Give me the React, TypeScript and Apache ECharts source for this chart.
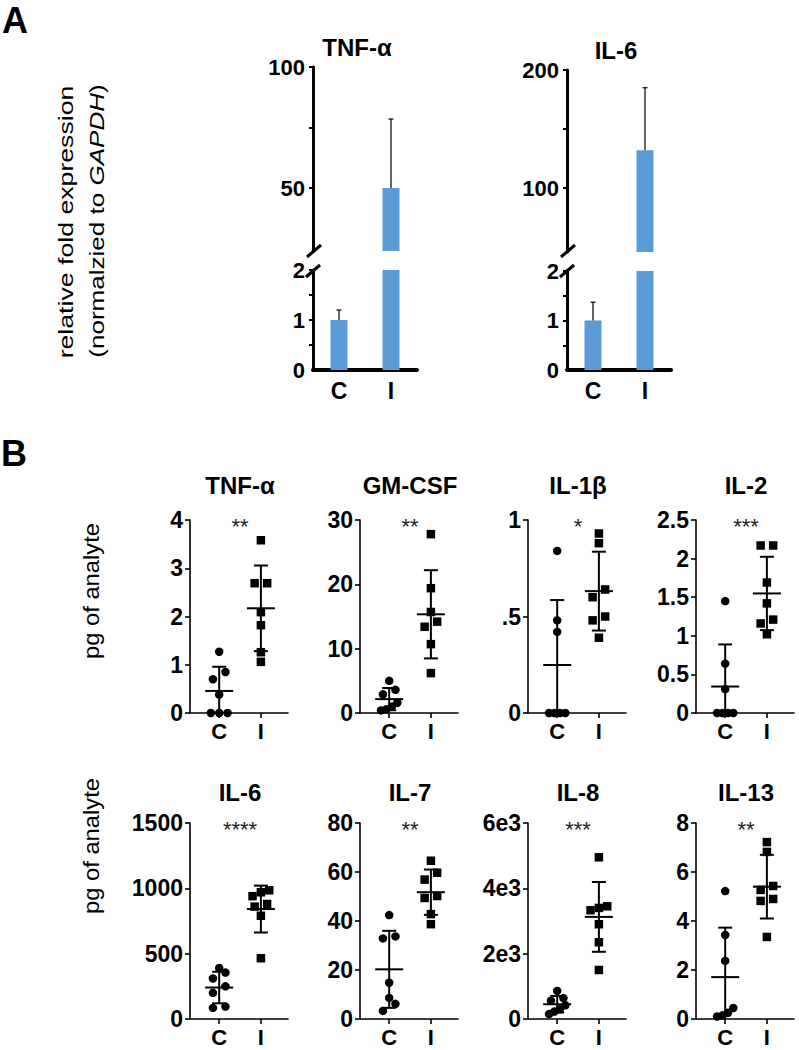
import React, { useEffect, useRef } from 'react';
import * as echarts from 'echarts';

const GROUPS = ['C', 'I'];

// Panel A: qPCR relative fold expression (mean and upward error)
const qpcrTnfMean = [1, 50];
const qpcrTnfErr = [0.2, 28.5];
const qpcrIl6Mean = [1, 132];
const qpcrIl6Err = [0.37, 53];

// Panel B: pg of analyte, control (C) and infected (I)
const tnfC = [1.27, 0.85, 0.7, 0.38, 0, 0, 0];
const tnfI = [3.58, 2.69, 2.69, 2.09, 1.82, 1.26, 1.06];
const gmcsfC = [5.0, 3.6, 2.9, 1.6, 1.0, 0.6, 0.4];
const gmcsfI = [27.8, 19.4, 15.7, 14.2, 13.4, 10.7, 6.2];
const il1bC = [0.84, 0.48, 0.42, 0, 0, 0, 0];
const il1bI = [0.93, 0.88, 0.64, 0.6, 0.5, 0.48, 0.39];
const il2C = [1.45, 0.64, 0.31, 0, 0, 0, 0];
const il2I = [2.17, 2.17, 1.69, 1.42, 1.21, 1.16, 1.02];
const il6C = [390, 355, 310, 250, 200, 95, 85];
const il6I = [985, 970, 940, 880, 860, 790, 465];
const il7C = [42.4, 33.7, 32.9, 14.8, 8.6, 6.2, 3.3];
const il7I = [64.6, 59.7, 56.9, 50.2, 49.4, 42.8, 38.7];
const il8C = [860, 640, 560, 420, 300, 230, 150];
const il8I = [4950, 3450, 3400, 3330, 2900, 2350, 1500];
const il13C = [5.22, 3.43, 2.37, 0.45, 0.25, 0.15, 0.1];
const il13I = [7.22, 6.82, 5.43, 5.27, 4.9, 4.82, 3.35];

const analytes = ['TNF-α', 'GM-CSF', 'IL-1β', 'IL-2', 'IL-6', 'IL-7', 'IL-8', 'IL-13'];
const significance = ['**', '**', '*', '***', '****', '**', '***', '**'];
const cSets = [tnfC, gmcsfC, il1bC, il2C, il6C, il7C, il8C, il13C];
const iSets = [tnfI, gmcsfI, il1bI, il2I, il6I, il7I, il8I, il13I];
const yMaxes = [4, 30, 1, 2.5, 1500, 80, 6000, 8];
const yIntervals = [1, 10, 0.5, 0.5, 500, 20, 2000, 2];

const FONT = "'Liberation Sans', Arial, Helvetica, sans-serif";

function meanSd(arr: number[]) {
  const m = arr.reduce((a, b) => a + b, 0) / arr.length;
  const sd = Math.sqrt(arr.reduce((a, b) => a + (b - m) * (b - m), 0) / (arr.length - 1));
  return [m, sd];
}

// Prism-like horizontal spreading of overlapping points
function jitter(values: number[], pxPerUnit: number) {
  const idx = values.map((_, i) => i).sort((a, b) => values[a] - values[b]);
  const off = new Array(values.length).fill(0);
  let cluster: number[] = [];
  const flush = () => {
    const n = cluster.length;
    const step = n === 2 ? 0.3 : n === 3 ? 0.2 : 0.13;
    cluster.forEach((k, j) => { off[k] = (j - (n - 1) / 2) * step; });
    cluster = [];
  };
  for (const k of idx) {
    if (cluster.length && (values[k] - values[cluster[0]]) * pxPerUnit > 9) flush();
    cluster.push(k);
  }
  flush();
  return off;
}

function fmtTick(k: number, v: number) {
  if (k === 2) return v === 0 ? '0' : String(v).replace(/^0\./, '.');
  if (k === 6) return v === 0 ? '0' : `${v / 1000}e3`;
  return String(v);
}

function buildOption() {
  const grid: any[] = [];
  const xAxis: any[] = [];
  const yAxis: any[] = [];
  const series: any[] = [];
  const graphic: any[] = [];

  const txt = (text: string, x: number, y: number, size: number, weight: string, extra: any = {}) => ({
    type: 'text', x, y, silent: true, ...extra,
    style: { text, fontSize: size, fontWeight: weight, fontFamily: FONT, fill: '#000', align: 'center', verticalAlign: 'middle', ...(extra.style || {}) },
  });

  graphic.push(txt('A', 2, 20, 36, 'bold', { style: { align: 'left' } }));
  graphic.push(txt('B', 1, 453, 36, 'bold', { style: { align: 'left' } }));

  // ---------- Panel A ----------
  graphic.push({
    type: 'text', x: 66, y: 222, rotation: Math.PI / 2, scaleX: 1.27, silent: true,
    style: { text: 'relative fold expression', fontSize: 21, fontFamily: FONT, fill: '#000', align: 'center', verticalAlign: 'middle' },
  });
  graphic.push({
    type: 'text', x: 97, y: 221, rotation: Math.PI / 2, scaleX: 1.24, silent: true,
    style: {
      text: '(normalzied to {i|GAPDH})', fontSize: 21, fontFamily: FONT, fill: '#000', align: 'center', verticalAlign: 'middle',
      rich: { i: { fontStyle: 'italic', fontSize: 21, fontFamily: FONT, fill: '#000' } },
    },
  });

  const panelA = [
    { title: 'TNF-α', mean: qpcrTnfMean, err: qpcrTnfErr, upMin: 24, upMax: 100, upLabels: [50, 100], upTicks: [50, 75, 100], left: 313, upTop: 67, upH: 184, lowTop: 270, titleX: 357, titleY: 47 },
    { title: 'IL-6', mean: qpcrIl6Mean, err: qpcrIl6Err, upMin: 46, upMax: 200, upLabels: [100, 200], upTicks: [100, 150, 200], left: 567, upTop: 70, upH: 182, lowTop: 271, titleX: 616, titleY: 50 },
  ];
  const LOW_MAX = 2;
  panelA.forEach((p) => {
    const width = 104;
    graphic.push(txt(p.title, p.titleX, p.titleY, 24, 'bold'));
    // upper grid
    const gu = grid.length;
    grid.push({ left: p.left, top: p.upTop, width, height: p.upH, containLabel: false });
    xAxis.push({ gridIndex: gu, type: 'category', data: GROUPS, show: false, boundaryGap: true });
    yAxis.push({
      gridIndex: gu, type: 'value', min: p.upMin, max: p.upMax,
      axisLine: { show: true, onZero: false, lineStyle: { color: '#000', width: 3 } },
      axisTick: { show: true, length: 4, customValues: p.upTicks, lineStyle: { color: '#000', width: 2 } },
      axisLabel: { customValues: p.upLabels, margin: 8, color: '#000', fontSize: 22, fontWeight: 'bold', fontFamily: FONT },
      splitLine: { show: false },
    });
    // lower grid
    const gl = grid.length;
    grid.push({ left: p.left, top: p.lowTop, width, height: 370 - p.lowTop, containLabel: false });
    xAxis.push({
      gridIndex: gl, type: 'category', data: GROUPS, boundaryGap: true,
      axisLine: { show: true, onZero: false, lineStyle: { color: '#000', width: 4 } },
      axisTick: { show: false },
      axisLabel: { margin: 9, color: '#000', fontSize: 23, fontWeight: 'bold', fontFamily: FONT },
    });
    yAxis.push({
      gridIndex: gl, type: 'value', min: 0, max: LOW_MAX,
      axisLine: { show: true, onZero: false, lineStyle: { color: '#000', width: 3 } },
      axisTick: { show: true, length: 4, customValues: [0.5, 1, 1.5, 2], lineStyle: { color: '#000', width: 2 } },
      axisLabel: { customValues: [0, 1, 2], margin: 8, color: '#000', fontSize: 22, fontWeight: 'bold', fontFamily: FONT },
      splitLine: { show: false },
    });
    const barStyle = { color: '#5b9bd5', opacity: 1 };
    series.push({ type: 'bar', xAxisIndex: gu, yAxisIndex: gu, barWidth: 17, clip: true, itemStyle: barStyle,
      data: p.mean.map((v) => (v > LOW_MAX ? v : '-')) });
    series.push({ type: 'bar', xAxisIndex: gl, yAxisIndex: gl, barWidth: 17, clip: true, itemStyle: barStyle, data: p.mean });
    const errRender = (params: any, api: any) => {
      const x = api.value(0), m = api.value(1), e = api.value(2);
      const a = api.coord([x, m]);
      const b = api.coord([x, m + e]);
      const st = { stroke: '#000', lineWidth: 1.2 };
      return {
        type: 'group', children: [
          { type: 'line', shape: { x1: a[0], y1: a[1], x2: b[0], y2: b[1] }, style: st },
          { type: 'line', shape: { x1: b[0] - 2.5, y1: b[1], x2: b[0] + 2.5, y2: b[1] }, style: st },
        ],
      };
    };
    const errData = p.mean.map((m, i) => [i, m, p.err[i]]);
    series.push({ type: 'custom', xAxisIndex: gu, yAxisIndex: gu, clip: false, z: 5, renderItem: errRender,
      data: errData.filter((d) => d[1] > LOW_MAX) });
    series.push({ type: 'custom', xAxisIndex: gl, yAxisIndex: gl, clip: false, z: 5, renderItem: errRender,
      data: errData.filter((d) => d[1] <= LOW_MAX) });
    // axis break marks
    const brk = { stroke: '#000', lineWidth: 3 };
    graphic.push({ type: 'line', silent: true, shape: { x1: p.left - 6, y1: 257, x2: p.left + 8, y2: 245 }, style: brk });
    graphic.push({ type: 'line', silent: true, shape: { x1: p.left - 7, y1: 277, x2: p.left + 7, y2: 265 }, style: brk });
  });

  // ---------- Panel B ----------
  const colX = [190, 360, 528, 696];
  const rowTop = [520, 823];
  const rowH = [193, 196];
  const W = 98;
  const X_MIN = 0.3, X_MAX = 2.65;
  graphic.push({
    type: 'text', x: 91, y: 591, rotation: Math.PI / 2, scaleX: 1.08, silent: true,
    style: { text: 'pg of analyte', fontSize: 22, fontFamily: FONT, fill: '#000', align: 'center', verticalAlign: 'middle' },
  });
  graphic.push({
    type: 'text', x: 91, y: 846, rotation: Math.PI / 2, scaleX: 1.08, silent: true,
    style: { text: 'pg of analyte', fontSize: 22, fontFamily: FONT, fill: '#000', align: 'center', verticalAlign: 'middle' },
  });

  analytes.forEach((name, k) => {
    const row = Math.floor(k / 4), col = k % 4;
    const left = colX[col], top = rowTop[row], height = rowH[row];
    const g = grid.length;
    grid.push({ left, top, width: W, height, containLabel: false });
    xAxis.push({
      gridIndex: g, type: 'value', min: X_MIN, max: X_MAX,
      axisLine: { show: true, onZero: false, lineStyle: { color: '#000', width: 1.6 } },
      axisTick: { show: true, length: 5, customValues: [1, 2], lineStyle: { color: '#000', width: 1.6 } },
      axisLabel: { customValues: [1, 2], formatter: (v: number) => GROUPS[Math.round(v) - 1], margin: 7, color: '#000', fontSize: 22, fontWeight: 'bold', fontFamily: FONT },
      splitLine: { show: false },
    });
    yAxis.push({
      gridIndex: g, type: 'value', min: 0, max: yMaxes[k], interval: yIntervals[k],
      axisLine: { show: true, onZero: false, lineStyle: { color: '#000', width: 1.6 } },
      axisTick: { show: true, length: 5, lineStyle: { color: '#000', width: 1.6 } },
      axisLabel: { formatter: (v: number) => fmtTick(k, v), margin: 7, color: '#000', fontSize: 23, fontWeight: 'bold', fontFamily: FONT },
      splitLine: { show: false },
    });
    const pxPerUnit = height / yMaxes[k];
    const groupsData = [cSets[k], iSets[k]];
    groupsData.forEach((vals, gi) => {
      const off = jitter(vals, pxPerUnit);
      series.push({
        type: 'scatter', xAxisIndex: g, yAxisIndex: g, symbol: gi === 0 ? 'circle' : 'rect', symbolSize: 8.5,
        itemStyle: { color: '#000', opacity: 1 }, clip: false,
        data: vals.map((v, i) => [gi + 1 + off[i], v]),
      });
    });
    const stats = groupsData.map((vals, gi) => { const [m, sd] = meanSd(vals); return [gi + 1, m, sd]; });
    series.push({
      type: 'custom', xAxisIndex: g, yAxisIndex: g, clip: false, z: 6, data: stats,
      renderItem: (params: any, api: any) => {
        const x = api.value(0), m = api.value(1), sd = api.value(2);
        const lo = Math.max(m - sd, 0);
        const pT = api.coord([x, m + sd]);
        const pL = api.coord([x, lo]);
        const pM = api.coord([x, m]);
        const st = { stroke: '#000', lineWidth: 2 };
        const children: any[] = [
          { type: 'line', shape: { x1: pT[0], y1: pT[1], x2: pL[0], y2: pL[1] }, style: st },
          { type: 'line', shape: { x1: pM[0] - 14, y1: pM[1], x2: pM[0] + 14, y2: pM[1] }, style: st },
          { type: 'line', shape: { x1: pT[0] - 7, y1: pT[1], x2: pT[0] + 7, y2: pT[1] }, style: st },
        ];
        if (m - sd > 0) children.push({ type: 'line', shape: { x1: pL[0] - 7, y1: pL[1], x2: pL[0] + 7, y2: pL[1] }, style: st });
        return { type: 'group', children };
      },
    });
    graphic.push(txt(name, left + 50, row === 0 ? 485 : 792, 24, 'bold'));
    graphic.push(txt(significance[k], left + 50, top + 6, 22, 'normal', { style: { fill: '#222' } }));
  });

  return { animation: false, backgroundColor: '#fff', grid, xAxis, yAxis, series, graphic };
}

export default function App() {
  const ref = useRef<HTMLDivElement>(null);
  useEffect(() => {
    const chart = echarts.init(ref.current as HTMLDivElement, null, { renderer: 'svg', width: 799, height: 1050 });
    chart.setOption(buildOption() as any);
    return () => chart.dispose();
  }, []);
  return <div ref={ref} style={{ position: 'fixed', left: 0, top: 0, width: 799, height: 1050, background: '#fff' }} />;
}
